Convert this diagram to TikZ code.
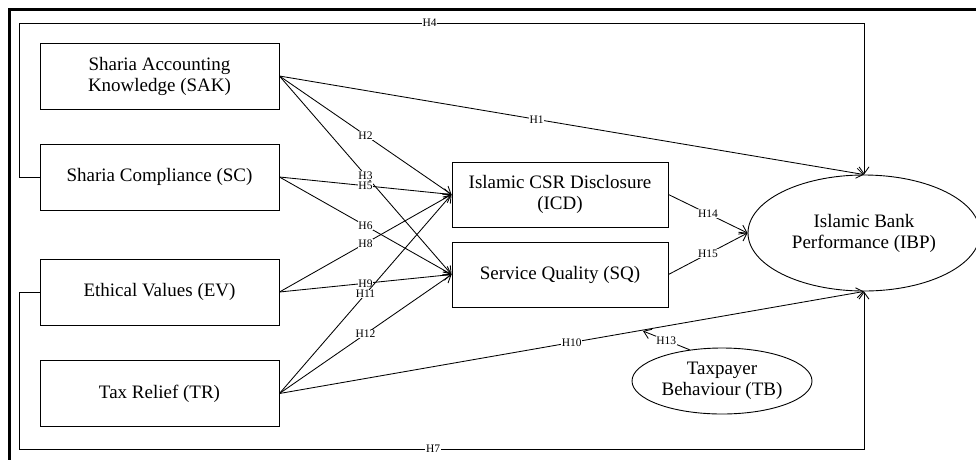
\documentclass[tikz,border=0pt]{standalone}
\usepackage{fontspec}
\setmainfont{Liberation Serif}
\usetikzlibrary{arrows.meta,shapes.geometric}

\begin{document}
\begin{tikzpicture}[x=1pt,y=-1pt]
  \tikzset{VarBox/.style   = {draw, rectangle, line width=0.9pt, align=center,
                              minimum width=239pt, minimum height=66pt,
                              font=\fontsize{19}{21}\selectfont},
           MedBox/.style   = {VarBox, minimum width=216pt, minimum height=65pt},
           VarOval/.style  = {draw, ellipse, line width=0.9pt, align=center,
                              inner sep=0pt, font=\fontsize{19}{21}\selectfont},
           EdgeStyle/.style= {line width=0.85pt, -{Straight Barb[length=7pt,width=10pt]}},
           HLabel/.style   = {fill=white, inner sep=0.6pt,
                              font=\fontsize{11.5}{12}\selectfont}}
  \useasboundingbox (0,0) rectangle (976,459);

% frame
\draw[line width=3pt] (9,470) -- (9,9) -- (990,9);

% part exogenous
\node[VarBox] (SAK) at (159.5,76)  {Sharia Accounting\\Knowledge (SAK)};
\node[VarBox] (SC)  at (159.5,177) {Sharia Compliance (SC)};
\node[VarBox] (EV)  at (159.5,292) {Ethical Values (EV)};
\node[VarBox] (TR)  at (159.5,393.5) {Tax Relief (TR)};

% part mediators
\node[MedBox] (ICD) at (560,194.5) {Islamic CSR Disclosure\\(ICD)};
\node[MedBox] (SQ)  at (560,274.5) {Service Quality (SQ)};

% part outcome and moderator
\node[VarOval, minimum width=232pt, minimum height=116pt] (IBP) at (864,233)
     {Islamic Bank\\Performance (IBP)};
\node[VarOval, minimum width=180pt, minimum height=66pt] (TB) at (722,381)
     {Taxpayer\\Behaviour (TB)};

\coordinate (h4a) at (19,177);
\coordinate (h4b) at (19,23);
\coordinate (h4c) at (864,23);
\coordinate (h7a) at (19,292);
\coordinate (h7b) at (19,449);
\coordinate (h7c) at (864,449);
\coordinate (h13end) at (643,331);

% direct paths
\draw[EdgeStyle] (SAK.east) -- node[HLabel, pos=.44] {H1} (IBP.north);
\draw[EdgeStyle] (TR.east)  -- node[HLabel, pos=.5]  {H10} (IBP.south);
\draw[EdgeStyle] (SC.west) -- (h4a) -- (h4b) -- node[HLabel, pos=.486] {H4} (h4c) -- (IBP.north);
\draw[EdgeStyle] (EV.west) -- (h7a) -- (h7b) -- node[HLabel, pos=.49] {H7} (h7c) -- (IBP.south);

% paths to mediators
\draw[EdgeStyle] (SAK.east) -- node[HLabel] {H2}  (ICD.west);
\draw[EdgeStyle] (SAK.east) -- node[HLabel] {H3}  (SQ.west);
\draw[EdgeStyle] (SC.east)  -- node[HLabel] {H5}  (ICD.west);
\draw[EdgeStyle] (SC.east)  -- node[HLabel] {H6}  (SQ.west);
\draw[EdgeStyle] (EV.east)  -- node[HLabel] {H8}  (ICD.west);
\draw[EdgeStyle] (EV.east)  -- node[HLabel] {H9}  (SQ.west);
\draw[EdgeStyle] (TR.east)  -- node[HLabel] {H11} (ICD.west);
\draw[EdgeStyle] (TR.east)  -- node[HLabel] {H12} (SQ.west);

% paths from mediators
\draw[EdgeStyle] (ICD.east) -- node[HLabel] {H14} (IBP.west);
\draw[EdgeStyle] (SQ.east)  -- node[HLabel] {H15} (IBP.west);

% moderation
\draw[EdgeStyle] (TB.136) -- node[HLabel] {H13} (h13end);

\end{tikzpicture}
\end{document}
